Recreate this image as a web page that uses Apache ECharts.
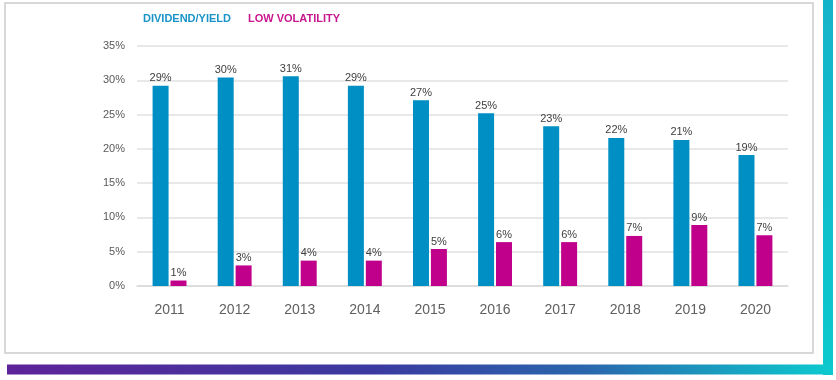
<!DOCTYPE html>
<html>
<head>
<meta charset="utf-8">
<script src="https://cdn.jsdelivr.net/npm/echarts@6/dist/echarts.min.js"></script>
<style>
html,body{margin:0;padding:0;background:#fff;}
#c{width:836px;height:380px;}
</style>
</head>
<body>
<div id="c"></div>
<script>
var categories = ['2011','2012','2013','2014','2015','2016','2017','2018','2019','2020'];
var dividendYield = [29.2, 30.4, 30.6, 29.2, 27.1, 25.2, 23.3, 21.6, 21.3, 19.1];
var lowVolatility = [0.8, 3.0, 3.7, 3.7, 5.4, 6.4, 6.4, 7.3, 8.9, 7.4];
var seriesNames = ['DIVIDEND/YIELD', 'LOW VOLATILITY'];
var seriesColors = ['#008fc5', '#c0008b'];
var yTicks = [0, 5, 10, 15, 20, 25, 30, 35];

var chart = echarts.init(document.getElementById('c'), null, {renderer: 'canvas'});
var labelCfg = {
  show: true,
  position: 'top',
  distance: 2,
  color: '#404040',
  fontFamily: 'Liberation Sans',
  fontSize: 11,
  formatter: function (p) { return Math.round(p.value) + '%'; }
};
chart.setOption({
  animation: false,
  backgroundColor: '#ffffff',
  graphic: [
    {type: 'rect', shape: {x: 5, y: 3, width: 808, height: 350}, style: {fill: 'none', stroke: '#cccccc', lineWidth: 1.5}, z: -1},
    {type: 'rect', shape: {x: 823, y: 0, width: 10, height: 375},
      style: {fill: new echarts.graphic.LinearGradient(0, 0, 0, 1, [{offset: 0, color: '#15b3c9'}, {offset: 1, color: '#0cc9cd'}])}, z: -1},
    {type: 'rect', shape: {x: 7, y: 364.5, width: 826, height: 10},
      style: {fill: new echarts.graphic.LinearGradient(0, 0, 1, 0, [{offset: 0, color: '#5e2399'}, {offset: 0.45, color: '#3a3aa1'}, {offset: 0.7, color: '#2a66ad'}, {offset: 1, color: '#0ccbcf'}])}, z: -1}
  ],
  legend: {
    top: 8,
    left: 133,
    itemWidth: 0,
    itemHeight: 0,
    itemGap: 12,
    icon: 'rect',
    selectedMode: false,
    textStyle: {fontFamily: 'Liberation Sans', fontSize: 11, fontWeight: 'bold', padding: [0, 0, 0, 0]},
    data: [
      {name: seriesNames[0], textStyle: {color: '#1a93c8'}},
      {name: seriesNames[1], textStyle: {color: '#c8168e'}}
    ]
  },
  grid: {left: 137, right: 48, top: 46, bottom: 94, containLabel: false},
  xAxis: {
    type: 'category',
    data: categories,
    axisLine: {show: true, lineStyle: {color: '#d9d9d9', width: 1.5}},
    axisTick: {show: false},
    axisLabel: {color: '#606060', fontFamily: 'Liberation Sans', fontSize: 14, margin: 17}
  },
  yAxis: {
    type: 'value',
    min: yTicks[0],
    max: yTicks[yTicks.length - 1],
    interval: 5,
    axisLine: {show: false},
    axisTick: {show: false},
    splitLine: {lineStyle: {color: '#e0e0e0', width: 1.5}},
    axisLabel: {color: '#595959', fontFamily: 'Liberation Sans', fontSize: 11, margin: 12, formatter: '{value}%'}
  },
  series: [
    {
      name: seriesNames[0], type: 'bar', data: dividendYield,
      barWidth: 16, barGap: '12%',
      itemStyle: {color: seriesColors[0]},
      label: labelCfg
    },
    {
      name: seriesNames[1], type: 'bar', data: lowVolatility,
      barWidth: 16, barGap: '12%',
      itemStyle: {color: seriesColors[1]},
      label: labelCfg
    }
  ]
});
</script>
</body>
</html>
